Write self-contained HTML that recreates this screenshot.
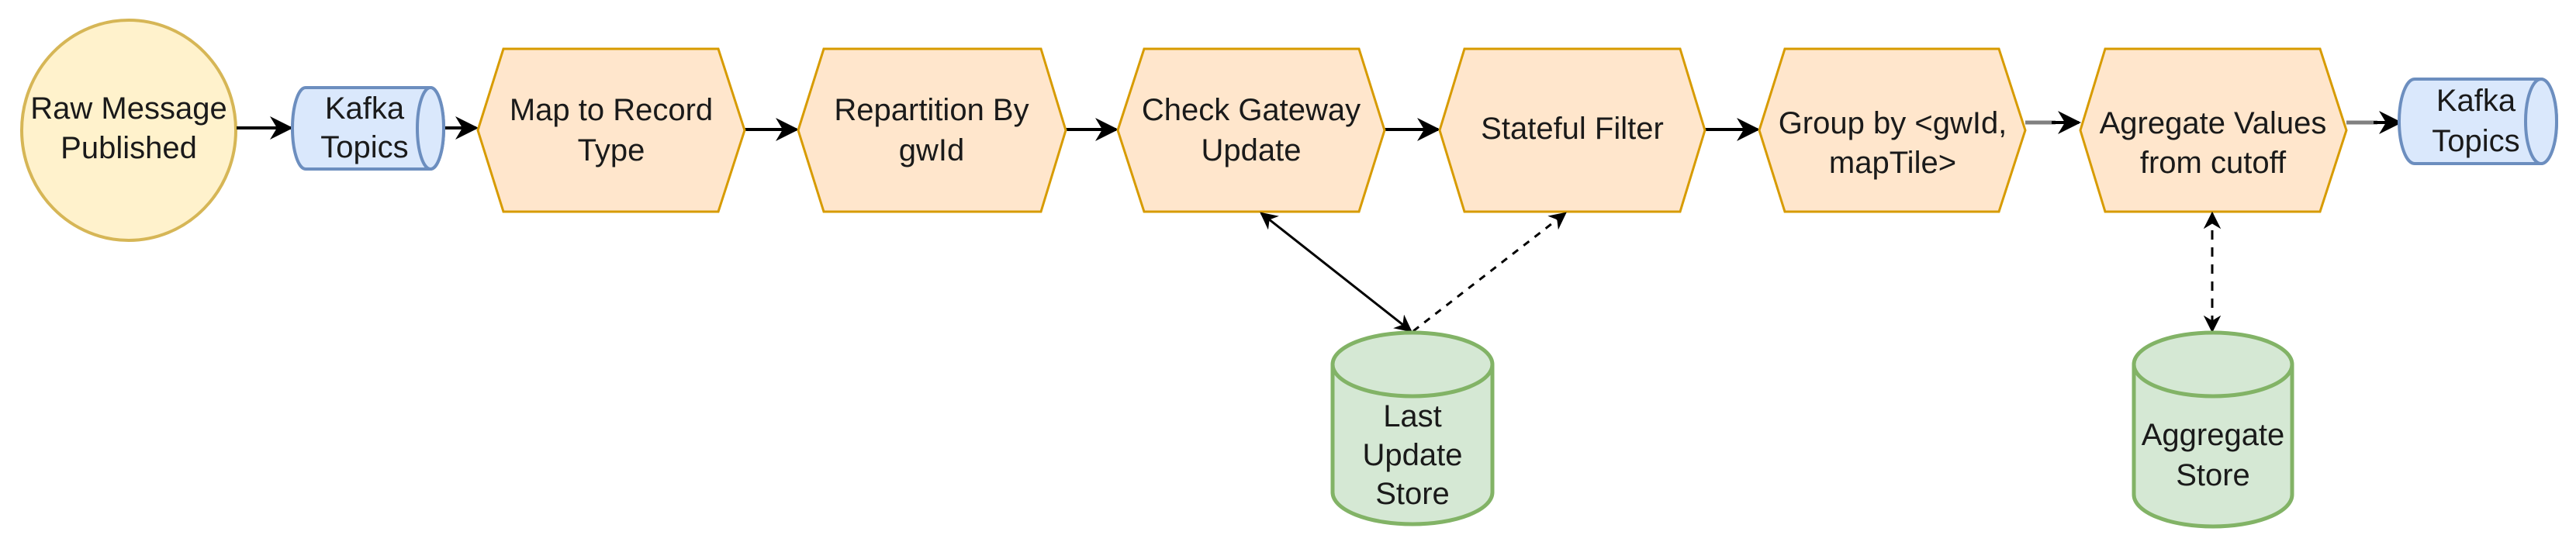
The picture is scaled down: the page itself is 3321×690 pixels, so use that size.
<!DOCTYPE html>
<html><head><meta charset="utf-8"><style>
html,body{margin:0;padding:0;background:#fff;}
svg{display:block}
text{font-family:"Liberation Sans",Arial,sans-serif;font-size:40px;fill:#1a1a1a;text-anchor:middle}
</style></head><body>
<svg width="3321" height="690" viewBox="0 0 3321 690" xmlns="http://www.w3.org/2000/svg">
<defs>
<marker id="ah" viewBox="0 0 10 10" refX="9" refY="5" markerWidth="7.5" markerHeight="7.5" markerUnits="strokeWidth" orient="auto-start-reverse">
<path d="M0,0 L10,5 L0,10 L3,5 z" fill="#000"/>
</marker>
</defs>
<!-- circle -->
<ellipse cx="166" cy="168" rx="138" ry="142" fill="#fff2cc" stroke="#d6b656" stroke-width="4"/>
<text x="166" y="153">Raw Message</text>
<text x="166" y="204">Published</text>

<!-- arrows main -->
<g stroke="#000" stroke-width="4" fill="none">
<line x1="305" y1="165" x2="375" y2="165" marker-end="url(#ah)"/>
<line x1="573" y1="165" x2="614" y2="165" marker-end="url(#ah)"/>
<line x1="960" y1="167" x2="1027" y2="167" marker-end="url(#ah)"/>
<line x1="1374" y1="167" x2="1439" y2="167" marker-end="url(#ah)"/>
<line x1="1785" y1="167" x2="1854" y2="167" marker-end="url(#ah)"/>
<line x1="2198" y1="167" x2="2266" y2="167" marker-end="url(#ah)"/>
</g>
<g stroke="#808080" stroke-width="5" fill="none">
<line x1="2611" y1="158" x2="2650" y2="158"/>
<line x1="3025" y1="158" x2="3065" y2="158"/>
</g>
<g stroke="#000" stroke-width="4" fill="none">
<line x1="2645" y1="158" x2="2680" y2="158" marker-end="url(#ah)"/>
<line x1="3060" y1="158" x2="3094" y2="158" marker-end="url(#ah)"/>
</g>

<!-- Kafka 1 -->
<path d="M394,113 L555,113 A17,52.5 0 0 1 555,218 L394,218 A17,52.5 0 0 1 394,113 Z" fill="#dae8fc" stroke="#6c8ebf" stroke-width="4"/>
<ellipse cx="555" cy="165.5" rx="17" ry="52.5" fill="#dae8fc" stroke="#6c8ebf" stroke-width="4"/>
<text x="470" y="153">Kafka</text>
<text x="470" y="203">Topics</text>

<!-- hexagons -->
<g fill="#ffe6cc" stroke="#d79b00" stroke-width="3">
<polygon points="616,168 649,63 926,63 960,168 926,273 649,273"/>
<polygon points="1029,168 1062,63 1342,63 1374,168 1342,273 1062,273"/>
<polygon points="1441,168 1475,63 1752,63 1785,168 1752,273 1475,273"/>
<polygon points="1856,168 1888,63 2166,63 2198,168 2166,273 1888,273"/>
<polygon points="2268,168 2301,63 2577,63 2611,168 2577,273 2301,273"/>
<polygon points="2682,168 2714,63 2991,63 3025,168 2991,273 2714,273"/>
</g>
<text x="788" y="155">Map to Record</text>
<text x="788" y="207">Type</text>
<text x="1201" y="155">Repartition By</text>
<text x="1201" y="207">gwId</text>
<text x="1613" y="155">Check Gateway</text>
<text x="1613" y="207">Update</text>
<text x="2027" y="179">Stateful Filter</text>
<text x="2440" y="172">Group by &lt;gwId,</text>
<text x="2440" y="223">mapTile&gt;</text>
<text x="2853" y="172">Agregate Values</text>
<text x="2853" y="223">from cutoff</text>

<!-- Kafka 2 -->
<path d="M3113,102 L3276,102 A20,54.5 0 0 1 3276,211 L3113,211 A20,54.5 0 0 1 3113,102 Z" fill="#dae8fc" stroke="#6c8ebf" stroke-width="4"/>
<ellipse cx="3276" cy="156.5" rx="20" ry="54.5" fill="#dae8fc" stroke="#6c8ebf" stroke-width="4"/>
<text x="3192" y="143">Kafka</text>
<text x="3192" y="195">Topics</text>

<!-- store connectors -->
<line x1="1626" y1="275" x2="1819" y2="427" stroke="#000" stroke-width="3" marker-start="url(#ah)" marker-end="url(#ah)"/>
<line x1="1822" y1="427" x2="2018" y2="275" stroke="#000" stroke-width="3" stroke-dasharray="9,9" marker-end="url(#ah)"/>
<line x1="2852" y1="275" x2="2852" y2="427" stroke="#000" stroke-width="3" stroke-dasharray="12,10" marker-start="url(#ah)" marker-end="url(#ah)"/>

<!-- Last Update Store -->
<path d="M1718,470 A103,41 0 0 1 1924,470 L1924,635 A103,41 0 0 1 1718,635 Z" fill="#d5e8d4" stroke="#82b366" stroke-width="5"/>
<path d="M1718,470 A103,41 0 0 0 1924,470" fill="none" stroke="#82b366" stroke-width="5"/>
<text x="1821" y="550">Last</text>
<text x="1821" y="600">Update</text>
<text x="1821" y="650">Store</text>

<!-- Aggregate Store -->
<path d="M2751,470 A102,41 0 0 1 2955,470 L2955,638 A102,41 0 0 1 2751,638 Z" fill="#d5e8d4" stroke="#82b366" stroke-width="5"/>
<path d="M2751,470 A102,41 0 0 0 2955,470" fill="none" stroke="#82b366" stroke-width="5"/>
<text x="2853" y="574">Aggregate</text>
<text x="2853" y="626">Store</text>
</svg>
</body></html>
